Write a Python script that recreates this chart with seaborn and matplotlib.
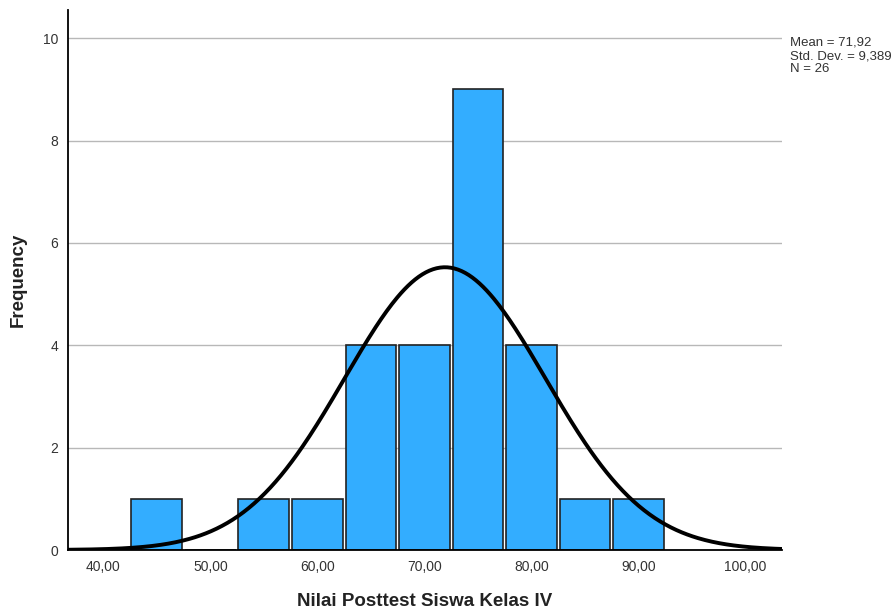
import numpy as np
import pandas as pd
import seaborn as sns
import matplotlib.pyplot as plt
import matplotlib.ticker as ticker

# Histogram bins (centre of each 5-point bin) and frequencies
bin_centers = [45, 50, 55, 60, 65, 70, 75, 80, 85, 90]
frequencies = [1, 0, 1, 1, 4, 4, 9, 4, 1, 1]

# Summary statistics shown in the legend box
mean_score = 71.92
std_dev = 9.389
n_students = 26
bin_width = 5

x_ticks = [40, 50, 60, 70, 80, 90, 100]
y_ticks = [0, 2, 4, 6, 8, 10]


def comma_decimal(value, digits):
    # SPSS output uses a comma as the decimal separator
    return f'{value:.{digits}f}'.replace('.', ',')


sns.set_style("white")
plt.rcParams['font.family'] = ['Liberation Sans', 'DejaVu Sans']

df = pd.DataFrame({'nilai': bin_centers, 'freq': frequencies})

fig = plt.figure(figsize=(8.94, 6.12), dpi=100)
ax = fig.add_axes([0.0761, 0.1013, 0.7986, 0.8824])

lo = min(bin_centers) - bin_width / 2
hi = max(bin_centers) + bin_width / 2
sns.histplot(data=df, x='nilai', weights='freq', binwidth=bin_width, binrange=(lo, hi),
             shrink=0.95, color='#33adff', alpha=1, edgecolor='#222222',
             linewidth=1.2, ax=ax, zorder=2)

# Normal curve scaled to counts
xs = np.linspace(36.7, 103.4, 400)
ys = n_students * bin_width / (std_dev * np.sqrt(2 * np.pi)) * np.exp(-0.5 * ((xs - mean_score) / std_dev) ** 2)
sns.lineplot(x=xs, y=ys, color='black', linewidth=2.8, ax=ax, zorder=3)

ax.set_xlim(36.7, 103.4)
ax.set_ylim(0, 10.55)
ax.set_xticks(x_ticks)
ax.set_yticks(y_ticks)
ax.xaxis.set_major_formatter(ticker.FuncFormatter(lambda v, p: comma_decimal(v, 2)))
ax.tick_params(axis='both', length=0, labelsize=10, colors='#333333', pad=7)
ax.yaxis.grid(True, color='#b8b8b8', linewidth=1, zorder=0)
ax.set_axisbelow(True)

for side in ['top', 'right']:
    ax.spines[side].set_visible(False)
for side in ['left', 'bottom']:
    ax.spines[side].set_color('black')
    ax.spines[side].set_linewidth(1.3)

ax.set_xlabel('Nilai Posttest Siswa Kelas IV', fontsize=13.5, fontweight='bold', color='#222222', labelpad=14)
ax.set_ylabel('Frequency', fontsize=13.5, fontweight='bold', color='#222222', labelpad=12)

stats_text = (f'Mean = {comma_decimal(mean_score, 2)}\n'
              f'Std. Dev. = {comma_decimal(std_dev, 3)}\n'
              f'N = {n_students}')
fig.text(0.884, 0.94, stats_text, fontsize=9.5, color='#333333', va='top', linespacing=1.15)

plt.savefig('out.png', dpi=100)
